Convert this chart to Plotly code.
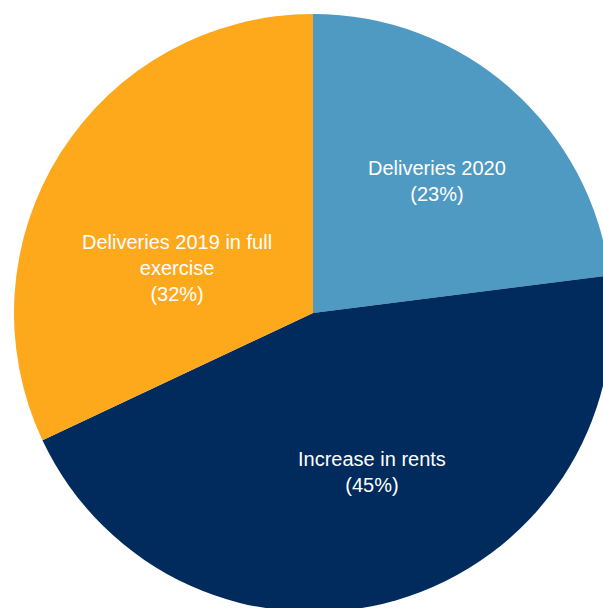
import plotly.graph_objects as go

categories = ["Deliveries 2020", "Increase in rents", "Deliveries 2019 in full exercise"]
shares = [23, 45, 32]
label_texts = ["Deliveries 2020<br>(23%)", "Increase in rents<br>(45%)", "Deliveries 2019 in full<br>exercise<br>(32%)"]
colors = ["#4F9AC2", "#002B5C", "#FDA91B"]

W = 626
H = 626
cx, cy, r = 313, 313, 299
# label anchor positions (pixels from top-left of the figure)
label_px = [(437, 181), (372, 472), (177, 268)]

fig = go.Figure(go.Pie(
    labels=categories,
    values=shares,
    textinfo="none",
    sort=False,
    direction="clockwise",
    rotation=0,
    marker=dict(colors=colors, line=dict(width=0)),
    hoverinfo="none",
    showlegend=False,
    domain=dict(x=[(cx - r) / W, (cx + r) / W], y=[(H - cy - r) / H, (H - cy + r) / H]),
))

for txt, (px, py) in zip(label_texts, label_px):
    fig.add_annotation(
        x=px / W, y=1 - py / H, xref="paper", yref="paper",
        text=txt, showarrow=False, xanchor="center", yanchor="middle", align="center",
        font=dict(family="Liberation Sans, Arial, sans-serif", size=20, color="white"),
    )

fig.update_layout(
    width=W, height=H,
    margin=dict(l=0, r=0, t=0, b=0),
    paper_bgcolor="white",
    plot_bgcolor="white",
)

fig.write_html(
    "out.html",
    config={"displayModeBar": False},
    post_script="document.body.style.margin='0';document.body.style.overflow='hidden';document.documentElement.style.overflow='hidden';",
)
